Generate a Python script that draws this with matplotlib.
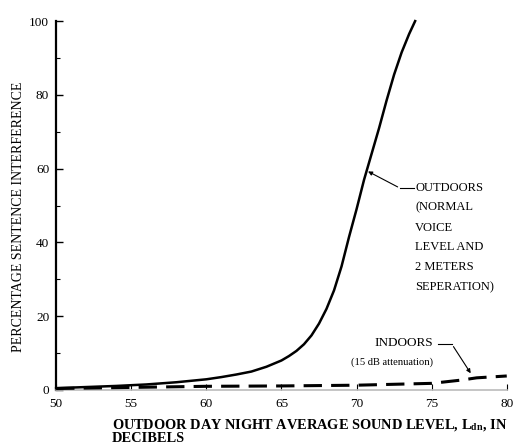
import matplotlib
matplotlib.use("Agg")
import matplotlib.pyplot as plt
from matplotlib.ticker import MultipleLocator

plt.rcParams['font.family'] = ['Liberation Serif', 'DejaVu Serif']
plt.rcParams['mathtext.fontset'] = 'stix'

# outdoor curve (normal voice, 2 m separation)
out_x = [50, 52, 54, 56, 58, 60, 61, 62, 63, 64, 65, 65.5, 66, 66.5, 67, 67.5, 68, 68.5,
         69, 69.5, 70, 70.5, 71, 71.5, 72, 72.5, 73, 73.5, 73.9]
out_y = [0.5, 0.8, 1.1, 1.5, 2.1, 2.9, 3.5, 4.2, 5.0, 6.3, 8.0, 9.2, 10.6, 12.4, 14.8, 18.0, 22.0, 27.0,
         33.5, 41.5, 49.0, 57.0, 64.0, 71.0, 78.5, 85.5, 91.5, 96.5, 100]

# indoor curve (15 dB attenuation)
in_x = [50, 55, 60, 65, 70, 75, 77, 78, 80]
in_y = [0.4, 0.7, 1.0, 1.1, 1.3, 1.8, 2.7, 3.3, 3.8]

x_ticks = [50, 55, 60, 65, 70, 75, 80]
y_ticks = [0, 20, 40, 60, 80, 100]

fig = plt.figure(figsize=(5.15, 4.45), dpi=100)
ax = fig.add_axes([0.109, 0.1236, 0.875, 0.829])

ax.plot(out_x, out_y, color='black', lw=1.8, clip_on=False, zorder=3)
ax.plot(in_x, in_y, color='black', lw=2.2, dashes=(6, 3), clip_on=False, zorder=3)

ax.set_xlim(50, 80)
ax.set_ylim(0, 100)
ax.set_xticks(x_ticks)
ax.set_yticks(y_ticks)
ax.yaxis.set_minor_locator(MultipleLocator(10))

ax.spines['top'].set_visible(False)
ax.spines['right'].set_visible(False)
ax.spines['left'].set_linewidth(1.6)
ax.spines['bottom'].set_color('#bbbbbb')
ax.spines['bottom'].set_linewidth(1.2)

ax.tick_params(axis='y', which='major', direction='in', length=5, width=1, pad=5, labelsize=9.5)
ax.tick_params(axis='y', which='minor', direction='in', length=3, width=0.8)
ax.tick_params(axis='x', which='major', direction='in', length=4, width=0.8, pad=6, labelsize=9.5)

ax.set_ylabel('PERCENTAGE SENTENCE INTERFERENCE', fontsize=10)
ax.yaxis.set_label_coords(-0.07, 0.47)

# x label in two lines, bold
fig.text(112 / 515, 1 - 425 / 445, 'OUTDOOR DAY NIGHT AVERAGE SOUND LEVEL, L$_{\\mathbf{dn}}$, IN',
         fontsize=10.4, fontweight='bold', ha='left', va='center')
fig.text(112 / 515, 1 - 438 / 445, 'DECIBELS',
         fontsize=10.4, fontweight='bold', ha='left', va='center')

# outdoors annotation
ax.text(73.9, 56.4, 'OUTDOORS\n(NORMAL\nVOICE\nLEVEL AND\n2 METERS\nSEPERATION)',
        fontsize=9, ha='left', va='top', linespacing=1.87)
ax.plot([73.8, 72.9], [54.7, 54.7], color='black', lw=0.8)
ax.annotate('', xy=(70.6, 59.6), xytext=(72.9, 54.7),
            arrowprops=dict(arrowstyle='-|>', color='black', lw=0.8, mutation_scale=6))

# indoors annotation
ax.text(75.1, 12.7, 'INDOORS', fontsize=9.5, ha='right', va='center')
ax.text(75.1, 7.6, '(15 dB attenuation)', fontsize=7.6, ha='right', va='center')
ax.plot([75.4, 76.35], [12.4, 12.4], color='black', lw=0.8)
ax.annotate('', xy=(77.7, 3.9), xytext=(76.35, 12.4),
            arrowprops=dict(arrowstyle='-|>', color='black', lw=0.8, mutation_scale=6))

fig.savefig('out.png', dpi=100)
